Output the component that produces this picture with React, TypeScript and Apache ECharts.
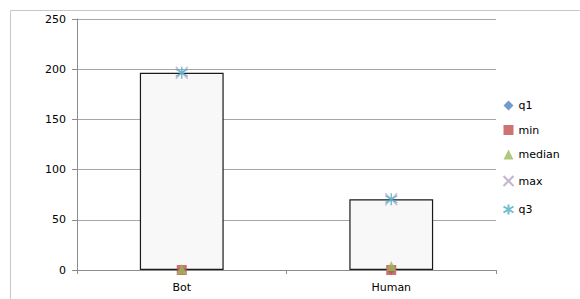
import React, { useEffect, useRef } from "react";
import * as echarts from "echarts";

const categories = ["Bot", "Human"];
const q1Values = [0, 0];
const minValues = [0, 0];
const medianValues = [1, 4];
const maxValues = [196.5, 70.5];
const q3Values = [196.5, 70.5];
const yTicks = [0, 50, 100, 150, 200, 250];

const X_PATH = "path://M0,0L10,10M10,0L0,10";
const X_FLAT_PATH = "path://M0,2L10,8M0,8L10,2";
const AST_PATH = "path://M5,0L5,10M0,2L10,8M0,8L10,2";

export default function App() {
  const ref = useRef<HTMLDivElement>(null);
  useEffect(() => {
    const chart = echarts.init(ref.current!, null, { renderer: "svg" });
    const font = "DejaVu Sans";
    const boxHeights = q3Values.map((v, i) => v - q1Values[i]);
    chart.setOption({
      animation: false,
      textStyle: { fontFamily: font },
      graphic: [
        {
          type: "rect",
          shape: { x: 10.5, y: 10.5, width: 620, height: 320 },
          style: { fill: "none", stroke: "#c8c8c8", lineWidth: 1 },
          silent: true,
        },
      ],
      grid: { left: 77, right: 84, top: 19, bottom: 29, containLabel: false },
      legend: {
        orient: "vertical",
        left: 496,
        top: 95,
        itemWidth: 10,
        itemHeight: 10,
        itemGap: 13.5,
        textStyle: { fontFamily: font, fontSize: 11, color: "#000" },
        data: [
          { name: "q1" },
          { name: "min" },
          { name: "median" },
          { name: "max", icon: X_PATH },
          { name: "q3" },
        ],
      },
      xAxis: {
        type: "category",
        data: categories,
        axisLine: { lineStyle: { color: "#8c8c8c" } },
        axisTick: { show: true, length: 4, lineStyle: { color: "#8c8c8c" } },
        axisLabel: { fontFamily: font, fontSize: 11, color: "#000", margin: 12 },
      },
      yAxis: {
        type: "value",
        min: yTicks[0],
        max: yTicks[yTicks.length - 1],
        interval: 50,
        axisLine: { show: true, lineStyle: { color: "#8c8c8c" } },
        axisTick: { show: true, length: 5, lineStyle: { color: "#8c8c8c" } },
        axisLabel: { fontFamily: font, fontSize: 11, color: "#000", margin: 11 },
        splitLine: { lineStyle: { color: "#a6a6a6" } },
      },
      series: [
        {
          name: "base",
          type: "bar",
          stack: "box",
          data: q1Values,
          barWidth: "40%",
          itemStyle: { color: "transparent" },
          silent: true,
        },
        {
          name: "box",
          type: "bar",
          stack: "box",
          data: boxHeights,
          barWidth: "40%",
          itemStyle: { color: "#f8f8f8", borderColor: "#1a1a1a", borderWidth: 1.2 },
          silent: true,
        },
        {
          name: "q1",
          type: "scatter",
          data: q1Values,
          symbol: "diamond",
          symbolSize: 9,
          itemStyle: { color: "#4f81bd" },
          z: 3,
        },
        {
          name: "min",
          type: "scatter",
          data: minValues,
          symbol: "rect",
          symbolSize: 10,
          itemStyle: { color: "#c0504d" },
          z: 4,
        },
        {
          name: "median",
          type: "scatter",
          data: medianValues,
          symbol: "triangle",
          symbolSize: 10,
          itemStyle: { color: "#9bbb59" },
          z: 5,
        },
        {
          name: "max",
          type: "scatter",
          data: maxValues,
          symbol: X_FLAT_PATH,
          symbolSize: 12,
          itemStyle: { color: "none", borderColor: "#b3a2c7", borderWidth: 1.2 },
          z: 6,
        },
        {
          name: "q3",
          type: "scatter",
          data: q3Values,
          symbol: AST_PATH,
          symbolSize: 12,
          itemStyle: { color: "none", borderColor: "#4bacc6", borderWidth: 1.4 },
          z: 7,
        },
      ],
    });
    return () => chart.dispose();
  }, []);
  return (
    <div
      ref={ref}
      style={{ position: "fixed", left: 0, top: 0, width: 580, height: 299, background: "#fff" }}
    />
  );
}
